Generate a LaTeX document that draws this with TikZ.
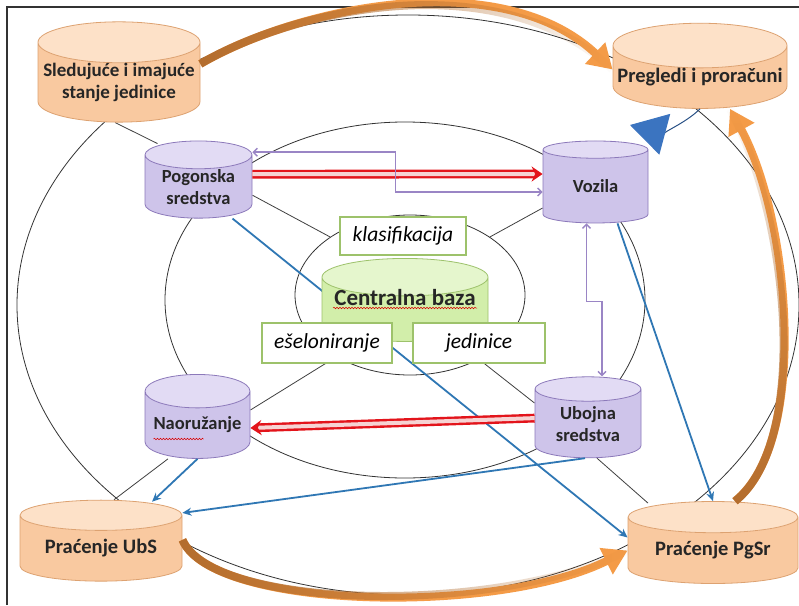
\documentclass[tikz,border=0pt]{standalone}
\usepackage{fontspec}
\setmainfont{Carlito}
\usetikzlibrary{shapes.geometric,arrows.meta,fadings,backgrounds,decorations.pathmorphing}

\definecolor{orbody}{HTML}{F9C9A0}
\definecolor{orend}{HTML}{FDE1C8}
\definecolor{orline}{HTML}{DDA271}
\definecolor{vibody}{HTML}{CEC4EA}
\definecolor{viend}{HTML}{E2DBF4}
\definecolor{viline}{HTML}{8C79BA}
\definecolor{grbody}{HTML}{D2EEAA}
\definecolor{grend}{HTML}{E5F6CD}
\definecolor{grline}{HTML}{9DC26B}
\definecolor{flowblue}{HTML}{2F77B4}
\definecolor{flowred}{HTML}{E3141B}
\definecolor{flowpink}{HTML}{F6D3D3}
\definecolor{lilac}{HTML}{9A85C5}
\definecolor{headorange}{HTML}{F49B47}
\definecolor{tailbrown}{HTML}{B36D2E}
\definecolor{wedgeblue}{HTML}{3B74C0}

% brown tail of the big arrows fades into orange
\tikzfading[name=tailfadeh, left color=transparent!0, right color=transparent!100]
\tikzfading[name=tailfadev, bottom color=transparent!0, top color=transparent!100]

\begin{document}
\begin{tikzpicture}[x=1pt, y=-1pt,
    db/.style={cylinder, shape border rotate=90, draw, line width=0.8pt,
      cylinder uses custom fill, inner sep=0pt, align=center, text=black!85},
    depot/.style={db, aspect=0.27, draw=orline, cylinder body fill=orbody, cylinder end fill=orend,
      font=\fontsize{20.5}{23}\selectfont\bfseries},
    store/.style={db, aspect=0.38, draw=viline, cylinder body fill=vibody, cylinder end fill=viend,
      font=\fontsize{18.5}{22}\selectfont\bfseries},
    hub/.style={db, aspect=0.265, draw=grline, cylinder body fill=grbody, cylinder end fill=grend,
      font=\fontsize{23}{26}\selectfont\bfseries},
    tag/.style={draw=grline, line width=1.6pt, fill=white,
      font=\fontsize{21.5}{24}\selectfont\itshape},
    ring/.style={ellipse, draw=black!80, line width=0.8pt, inner sep=0pt},
    spoke/.style={draw=black!75, line width=0.8pt},
    bluearrow/.style={draw=flowblue, line width=1.8pt, -{Stealth[length=9pt,width=8pt]}},
    redarrow/.style={draw=flowred, double=flowpink, double distance=4pt, line width=2.4pt,
      -{Stealth[length=11pt,width=15pt]}},
    lilacarrow/.style={draw=lilac, line width=1.4pt,
      {Straight Barb[length=4pt,width=8pt]}-{Straight Barb[length=4pt,width=8pt]}},
    loopflow/.style={line width=8pt, draw=headorange, -{Triangle[length=24pt,width=28pt]}},
    looptail/.style={line width=8pt, draw=tailbrown, path fading=#1},
    squiggle/.style={draw=red!85!black, line width=0.5pt, decorate,
      decoration={snake, amplitude=0.8pt, segment length=3pt}}
  ]
  \useasboundingbox (0,0) rectangle (799,605);

  % databases (a node sits on its text, the top cap adds above)
  \node[depot, minimum width=162pt, minimum height=87pt, font=\fontsize{19}{22}\selectfont\bfseries]
    (sled) at (119,82.4) {Sledujuće i imajuće\\stanje jedinice};
  \node[depot, minimum width=174pt, minimum height=85pt] (pre) at (700,77.2) {Pregledi i proračuni};
  \node[store, minimum width=107pt, minimum height=77pt] (pog) at (198.5,186.7) {Pogonska\\sredstva};
  \node[store, minimum width=105pt, minimum height=82pt] (voz) at (595.5,186.5) {Vozila};
  \node[hub, minimum width=166pt, minimum height=83pt] (cb) at (405,309.5)
    {\raisebox{4pt}[0pt][0pt]{Centralna baza}};
  \node[store, minimum width=105pt, minimum height=84pt] (nao) at (197.5,425) {Naoružanje};
  \node[store, minimum width=106pt, minimum height=81pt] (ubo) at (588,423.6) {Ubojna\\sredstva};
  \node[depot, minimum width=162pt, minimum height=81pt] (ubs) at (101,548.4) {Praćenje UbS};
  \node[depot, minimum width=170pt, minimum height=82pt] (pgsr) at (713,550.5) {Praćenje PgSr};

  \node[tag, minimum width=126pt, minimum height=38pt] (klas) at (403,236) {klasifikacija};
  \node[tag, minimum width=130pt, minimum height=40pt] (esel) at (327,343) {ešeloniranje};
  \node[tag, minimum width=132pt, minimum height=40pt] (jed) at (479,343) {jedinice};

  \draw[squiggle] ([xshift=-72pt,yshift=1.5pt]cb.center) -- ++(144,0);
  \draw[squiggle] ([xshift=-44pt,yshift=-14pt]nao.center) -- ++(50,0);

  \begin{scope}[on background layer]
    \fill[white] (0,0) rectangle (799,605);
    \draw[black!80, line width=1.3pt] (7,605) -- (7,7) -- (799,7);
    \node[ring, minimum width=782pt, minimum height=580pt] (outer) at (408,305) {};
    \node[ring, minimum width=480pt, minimum height=356pt] (middle) at (405,300) {};
    \node[ring, minimum width=230pt, minimum height=160pt] (core) at (410,295) {};
    \draw[spoke] ([xshift=-4pt]sled.south) -- ([xshift=-41pt,yshift=-3pt]pog.north);
    \draw[spoke] ([xshift=-29.5pt]nao.south) -- ([xshift=13pt]ubs.north);
    \draw[spoke] ([yshift=-8.5pt]pog.east) -- (core.144);
    \draw[spoke] ([yshift=-21.5pt]voz.west) -- (core.36);
    \draw[spoke] ([yshift=15pt]nao.east) -- (core.220);
    \draw[spoke] ([yshift=20.5pt]ubo.west) -- (core.317);
    \draw[spoke] ([xshift=9pt]ubo.south) -- ([xshift=-65pt,yshift=-2pt]pgsr.north);
    \draw[bluearrow] ([xshift=34pt]pog.south) -- ([yshift=13pt]pgsr.west);
  \end{scope}

  % flows between the stores
  \draw[redarrow] ([yshift=12.5pt]pog.east) -- ([yshift=12.5pt]voz.west);
  \draw[redarrow] ([yshift=5.5pt]ubo.west) -- ([yshift=-3pt]nao.east);
  \draw[lilacarrow] ([yshift=34.5pt]pog.east) -- ++(143,0) |- ([yshift=-5.5pt]voz.west);
  \draw[lilacarrow] ([xshift=-9pt]voz.south) -- ++(0,78) -| ([xshift=14pt]ubo.north);
  \draw[bluearrow] ([xshift=22pt]voz.south) -- (pgsr.north);
  \draw[bluearrow] ([xshift=-3pt]ubo.south) -- ([yshift=35.5pt]ubs.east);
  \draw[bluearrow] (nao.south) -- ([xshift=51pt,yshift=-2pt]ubs.north);
  \draw[draw=wedgeblue!70!black, line width=1pt, -{Triangle[length=36pt,width=42pt,color=wedgeblue]}]
    (pre.south) .. controls +(-15,15) and +(30,8) .. ([xshift=34.5pt,yshift=61.5pt]voz.center);

  % big loop
  \draw[loopflow] ([yshift=18.5pt]sled.east) .. controls +(96,-56) and +(-113,-106) .. ([yshift=7.7pt]pre.west);
  \draw[looptail=tailfadeh] ([yshift=18.5pt]sled.east) .. controls +(96,-56) and +(-113,-106) .. ([yshift=7.7pt]pre.west);
  \draw[loopflow] ([xshift=22pt]pgsr.north) .. controls +(75,-60) and +(60,110) .. ([xshift=30pt]pre.south);
  \draw[looptail=tailfadev] ([xshift=22pt]pgsr.north) .. controls +(75,-60) and +(60,110) .. ([xshift=30pt]pre.south);
  \draw[loopflow] ([yshift=8.5pt]ubs.east) .. controls +(30,70) and +(-130,65) .. (pgsr.west);
  \draw[looptail=tailfadeh] ([yshift=8.5pt]ubs.east) .. controls +(30,70) and +(-130,65) .. (pgsr.west);
\end{tikzpicture}
\end{document}
